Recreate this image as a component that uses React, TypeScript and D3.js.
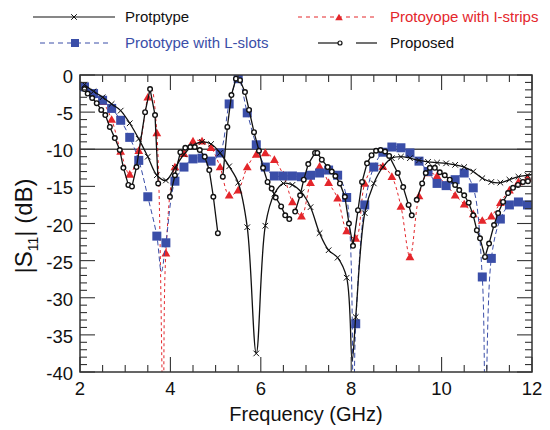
import React from 'react';
import * as d3 from 'd3';

// [frequency GHz, |S11| dB]
const protoData: [number, number][] = [
  [2.1, -1.3], [2.3, -2.2], [2.5, -3.0], [2.7, -3.9], [2.9, -4.8], [3.1, -6.5], [3.3, -8.6], [3.5, -11.0],
  [3.7, -13.5], [3.9, -14.2], [4.1, -12.5], [4.3, -10.7], [4.5, -9.5], [4.7, -9.0], [4.9, -9.3], [5.1, -10.5],
  [5.3, -12.3], [5.5, -14.5], [5.7, -20.5], [5.9, -37.5], [6.1, -20.3], [6.3, -16.0], [6.5, -14.6], [6.7, -14.8],
  [6.9, -15.8], [7.1, -17.8], [7.3, -21.3], [7.5, -23.6], [7.7, -24.6], [7.9, -27.3], [8.02, -38.5], [8.1, -32.6],
  [8.3, -18.6], [8.5, -14.6], [8.7, -12.4], [8.9, -11.2], [9.1, -11.0], [9.3, -11.2], [9.5, -11.5], [9.7, -11.7],
  [9.9, -11.8], [10.1, -11.9], [10.3, -12.1], [10.5, -12.4], [10.7, -13.0], [10.9, -13.9], [11.1, -14.4],
  [11.3, -14.5], [11.5, -14.1], [11.7, -13.7], [11.9, -13.5], [12.0, -13.4],
];

const stripsData: [number, number][] = [
  [2.1, -1.6], [2.3, -2.6], [2.5, -3.6], [2.7, -6.0], [2.9, -10.3], [3.1, -13.4], [3.3, -10.2], [3.5, -3.0],
  [3.58, -1.8], [3.7, -7.8], [3.84, -45], [3.9, -24.0], [4.1, -12.4], [4.3, -10.6], [4.5, -8.9], [4.7, -8.9],
  [4.9, -9.8], [5.1, -12.4], [5.3, -16.2], [5.5, -15.5], [5.7, -12.4], [5.9, -10.7], [6.1, -10.5], [6.3, -11.4],
  [6.5, -13.5], [6.7, -17.1], [6.9, -19.0], [7.1, -14.5], [7.3, -12.3], [7.5, -14.5], [7.7, -16.6], [7.9, -21.0],
  [8.1, -22.0], [8.3, -14.6], [8.5, -12.4], [8.7, -12.3], [8.9, -13.7], [9.1, -17.7], [9.3, -24.5], [9.5, -16.3],
  [9.7, -13.2], [9.9, -13.6], [10.1, -14.8], [10.3, -16.2], [10.5, -17.4], [10.7, -18.7], [10.9, -19.6],
  [11.1, -19.0], [11.3, -17.2], [11.5, -15.5], [11.7, -14.4], [11.9, -13.9], [12.0, -13.8],
];

const slotsData: [number, number][] = [
  [2.1, -1.6], [2.3, -2.5], [2.5, -3.4], [2.7, -4.5], [2.9, -6.1], [3.1, -8.4], [3.3, -11.5], [3.5, -16.4],
  [3.7, -21.7], [3.8, -26.5], [3.9, -22.6], [4.1, -14.3], [4.3, -12.4], [4.5, -11.3], [4.7, -11.2], [4.9, -11.6],
  [5.1, -10.5], [5.3, -3.9], [5.5, -0.5], [5.7, -5.1], [5.9, -9.4], [6.1, -12.4], [6.3, -13.6], [6.5, -13.6],
  [6.7, -13.6], [6.9, -13.7], [7.1, -13.5], [7.3, -13.2], [7.5, -12.8], [7.7, -13.5], [7.9, -16.5], [8.05, -45],
  [8.1, -33.5], [8.3, -17.5], [8.5, -12.4], [8.7, -10.4], [8.9, -9.7], [9.1, -9.8], [9.3, -10.5], [9.5, -11.6],
  [9.7, -13.0], [9.9, -14.6], [10.1, -14.9], [10.3, -14.1], [10.5, -13.2], [10.7, -15.2], [10.9, -27.2],
  [10.97, -45], [11.1, -24.7], [11.3, -19.4], [11.5, -17.5], [11.7, -17.1], [11.9, -17.5], [12.0, -17.3],
];

// NaN marks a break in the drawn line
const proposedData: [number, number][] = [
  [2.1, -1.9], [2.17, -2.5], [2.27, -3.1], [2.37, -3.8], [2.47, -4.7], [2.56, -5.4], [2.66, -7.0], [2.77, -8.5],
  [2.88, -10.1], [2.96, -12.5], [3.07, -14.8], [3.15, -15.0], [3.25, -12.4], [3.44, -5.0], [3.55, -1.9],
  [3.66, -5.4], [3.73, -14.6], [3.8, NaN], [3.99, -16.4], [4.1, -13.5], [4.22, -10.4], [4.33, -9.8], [4.44, -9.7],
  [4.54, -9.7], [4.65, -10.1], [4.76, -11.0], [4.86, -12.8], [4.95, -16.4], [5.05, -21.3], [5.1, NaN],
  [5.16, -13.7], [5.26, -7.0], [5.35, -2.7], [5.45, -0.5], [5.54, -0.7], [5.65, -2.3], [5.74, -4.7], [5.85, -7.7],
  [5.96, -10.2], [6.05, -12.5], [6.15, -14.4], [6.24, -15.3], [6.33, -16.5], [6.45, -17.7], [6.54, -18.9],
  [6.63, -19.4], [6.7, NaN], [6.76, -18.4], [6.87, -16.2], [6.95, -14.1], [7.05, -12.0], [7.2, -10.5],
  [7.25, -10.5], [7.35, -11.4], [7.48, -12.4], [7.57, -13.0], [7.65, -13.6], [7.75, -14.6], [7.86, -16.4],
  [7.95, -20.0], [8.04, -23.0], [8.15, -18.2], [8.24, -14.4], [8.35, -11.9], [8.45, -10.8], [8.55, -10.2],
  [8.65, -10.1], [8.75, -10.3], [8.84, -10.9], [9.03, -13.2], [9.15, -15.1], [9.27, -17.5], [9.34, -18.9],
  [9.4, NaN], [9.45, -16.8], [9.57, -14.6], [9.65, -13.2], [9.74, -12.5], [9.85, -12.5], [9.96, -13.1],
  [10.07, -13.5], [10.18, -14.1], [10.3, -14.8], [10.39, -15.5], [10.5, -16.2], [10.6, -17.2], [10.7, -18.9],
  [10.78, -20.9], [10.85, -22.0], [10.96, -24.5], [11.05, -22.7], [11.16, -20.2], [11.25, -18.6],
  [11.36, -17.1], [11.47, -15.9], [11.58, -15.2], [11.69, -14.8], [11.8, -14.4], [11.91, -14.3],
];

const xTickLabels = [2, 4, 6, 8, 10, 12];
const yTickLabels = [0, -5, -10, -15, -20, -25, -30, -35, -40];
const refLevel = -10;

const legendNames = ['Protptype', 'Protoyope with I-strips', 'Prototype with L-slots', 'Proposed'];

const BLUE = '#3a4ea8';
const RED = '#e4262b';
const FONT = 'Arial, "Liberation Sans", Helvetica, sans-serif';

const L = 80, R = 532, T = 75, B = 372;

const onGrid = (f: number) => {
  const k = (f - 2.1) / 0.2;
  return Math.abs(k - Math.round(k)) < 0.02 && f <= 11.95;
};

export default function App() {
  const x = d3.scaleLinear().domain([2, 12]).range([L, R]);
  const y = d3.scaleLinear().domain([-40, 0]).range([B, T]);

  const smooth = d3.line<[number, number]>()
    .x(d => x(d[0])).y(d => y(d[1]))
    .curve(d3.curveCatmullRom.alpha(0.5));
  const seg = d3.line<[number, number]>()
    .defined(d => !isNaN(d[1]))
    .x(d => x(d[0])).y(d => y(d[1]))
    .curve(d3.curveLinear);

  const xMinor = d3.range(2, 12.001, 0.5);
  const yMinor = d3.range(-40, 0.001, 1);

  const tri = (cx: number, cy: number, s = 4.4) =>
    `M${cx},${cy - s}L${cx + s},${cy + s * 0.75}L${cx - s},${cy + s * 0.75}Z`;
  const cross = (cx: number, cy: number, s = 2.8) =>
    `M${cx - s},${cy - s}L${cx + s},${cy + s}M${cx - s},${cy + s}L${cx + s},${cy - s}`;

  return (
    <div style={{ position: 'absolute', left: 0, top: 0 }}>
      <svg width={550} height={430} style={{ display: 'block', background: '#fff' }} fontFamily={FONT}>
        <defs>
          <clipPath id="plot">
            <rect x={L} y={T} width={R - L} height={B - T} />
          </clipPath>
        </defs>

        {/* reference line */}
        <line x1={L} x2={R} y1={y(refLevel)} y2={y(refLevel)} stroke="#4a4a4a" strokeWidth={1.7} />

        <g clipPath="url(#plot)">
          {/* I-strips */}
          <path d={smooth(stripsData) || ''} fill="none" stroke={RED} strokeWidth={1} strokeDasharray="3,3" />
          {stripsData.filter(d => onGrid(d[0])).map((d, i) => (
            <path key={'t' + i} d={tri(x(d[0]), y(d[1]))} fill={RED} />
          ))}
          {/* L-slots */}
          <path d={smooth(slotsData) || ''} fill="none" stroke={BLUE} strokeWidth={1} strokeDasharray="5,3" />
          {slotsData.filter(d => onGrid(d[0])).map((d, i) => (
            <rect key={'s' + i} x={x(d[0]) - 4.5} y={y(d[1]) - 4.5} width={9} height={9} fill={BLUE} />
          ))}
          {/* Protptype */}
          <path d={smooth(protoData) || ''} fill="none" stroke="#111" strokeWidth={1.3} />
          {protoData.filter(d => onGrid(d[0])).map((d, i) => (
            <path key={'x' + i} d={cross(x(d[0]), y(d[1]))} stroke="#111" strokeWidth={1} fill="none" />
          ))}
          {/* Proposed */}
          <path d={seg(proposedData) || ''} fill="none" stroke="#111" strokeWidth={1.3} />
          {proposedData.filter(d => !isNaN(d[1])).map((d, i) => (
            <circle key={'c' + i} cx={x(d[0])} cy={y(d[1])} r={2.3} fill="#fff" stroke="#111" strokeWidth={1.4} />
          ))}
        </g>

        {/* ticks */}
        <g stroke="#333" strokeWidth={1.1}>
          {xMinor.map(v => {
            const major = Math.abs(v % 2) < 1e-6;
            const len = major ? 15 : 7;
            return (
              <g key={'xt' + v}>
                <line x1={x(v)} x2={x(v)} y1={B} y2={B - len} />
                <line x1={x(v)} x2={x(v)} y1={T} y2={T + len} />
              </g>
            );
          })}
          {yMinor.map(v => {
            const major = Math.abs(v % 5) < 1e-6;
            const len = major ? 15 : 7;
            return (
              <g key={'yt' + v}>
                <line x1={L} x2={L + len} y1={y(v)} y2={y(v)} />
                <line x1={R} x2={R - len} y1={y(v)} y2={y(v)} />
              </g>
            );
          })}
        </g>
        <rect x={L} y={T} width={R - L} height={B - T} fill="none" stroke="#333" strokeWidth={1.5} />

        {/* tick labels */}
        {xTickLabels.map(v => (
          <text key={'xl' + v} x={x(v)} y={B + 23} fontSize={18.5} textAnchor="middle" fill="#111">{v}</text>
        ))}
        {yTickLabels.map(v => (
          <text key={'yl' + v} x={L - 7} y={y(v) + 8} fontSize={18.5} textAnchor="end" fill="#111">{v}</text>
        ))}

        {/* axis titles */}
        <text x={(L + R) / 2} y={421} fontSize={20} textAnchor="middle" fill="#111">Frequency (GHz)</text>
        <text transform={`translate(32,226) rotate(-90)`} fontSize={24} textAnchor="middle" fill="#111">
          |S<tspan fontSize={14} dy={6}>11</tspan><tspan dy={-6}>| (dB)</tspan>
        </text>

        {/* legend */}
        <g fontSize={15}>
          <line x1={33} x2={115} y1={17} y2={17} stroke="#111" strokeWidth={1.2} />
          <path d={cross(74, 17)} stroke="#111" strokeWidth={1} />
          <text x={125} y={22} fill="#111">{legendNames[0]}</text>

          <line x1={298} x2={378} y1={17} y2={17} stroke={RED} strokeWidth={1} strokeDasharray="4,4" />
          <path d={tri(339, 17.5, 3.8)} fill={RED} />
          <text x={390} y={22} fill={RED}>{legendNames[1]}</text>

          <line x1={40} x2={108} y1={43} y2={43} stroke={BLUE} strokeWidth={1} strokeDasharray="5,4" />
          <rect x={71} y={39} width={8} height={8} fill={BLUE} />
          <text x={125} y={48} fill={BLUE}>{legendNames[2]}</text>

          <line x1={318} x2={338} y1={43} y2={43} stroke="#111" strokeWidth={1.2} />
          <circle cx={340} cy={43} r={2} fill="#fff" stroke="#111" strokeWidth={1.2} />
          <line x1={356} x2={377} y1={43} y2={43} stroke="#111" strokeWidth={1.2} />
          <text x={390} y={48} fill="#111">{legendNames[3]}</text>
        </g>
      </svg>
    </div>
  );
}
